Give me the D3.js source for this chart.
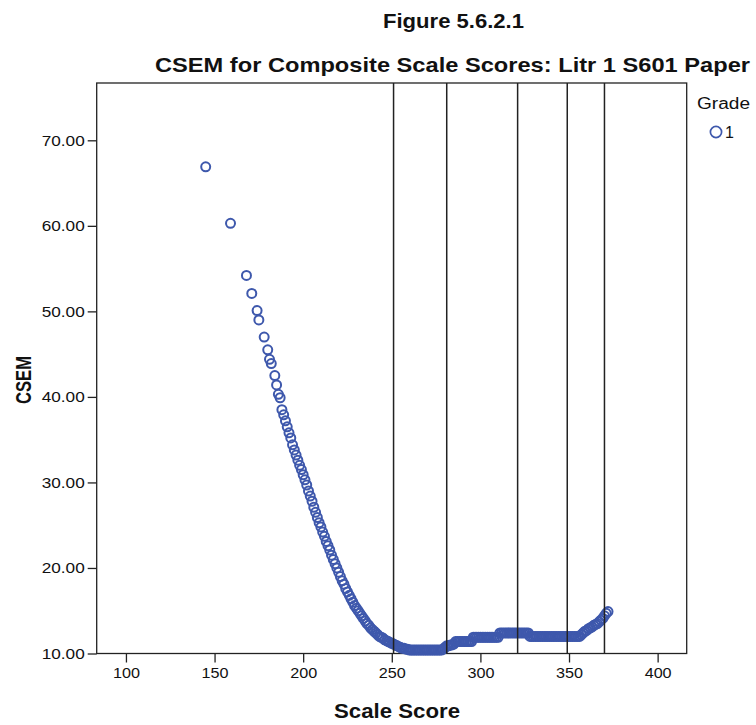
<!DOCTYPE html>
<html>
<head>
<meta charset="utf-8">
<script src="https://cdn.jsdelivr.net/npm/d3@7"></script>
<style>
  body { margin: 0; background: #fff; }
  svg text { font-family: "Liberation Sans", Arial, sans-serif; fill: #111; }
</style>
</head>
<body>
<div id="chart"></div>
<script>
// scale score of each point
const scaleScores = [
  145, 159, 168, 171, 174, 175, 178, 180, 181, 182, 184, 185,
  186, 187, 188, 189, 190, 191, 192, 193, 194, 195,
  196, 197, 198, 199, 200, 201, 202, 203, 204, 205,
  206, 207, 208, 209, 210, 211, 212, 213, 214, 215,
  216, 217, 218, 219, 220, 221, 222, 223, 224, 225,
  226, 227, 228, 229, 230, 231, 232, 233, 234, 235,
  236, 237, 238, 239, 240, 241, 242, 243, 244, 245,
  246, 247, 248, 249, 250, 251, 252, 253, 254, 255,
  256, 257, 258, 259, 260, 261, 262, 263, 264, 265,
  266, 267, 268, 269, 270, 271, 272, 273, 274, 275,
  276, 277, 278, 279, 280, 281, 282, 283, 284, 285,
  286, 287, 288, 289, 290, 291, 292, 293, 294, 295,
  296, 297, 298, 299, 300, 301, 302, 303, 304, 305,
  306, 307, 308, 309, 310, 311, 312, 313, 314, 315,
  316, 317, 318, 319, 320, 321, 322, 323, 324, 325,
  326, 327, 328, 329, 330, 331, 332, 333, 334, 335,
  336, 337, 338, 339, 340, 341, 342, 343, 344, 345,
  346, 347, 348, 349, 350, 351, 352, 353, 354, 355,
  356, 357, 358, 359, 360, 361, 362, 363, 364, 365,
  366, 367, 368, 369, 370, 371, 372
];
// CSEM of each point
const csemValues = [
  66.9, 60.3, 54.2, 52.1, 50.1, 49.0, 47.0, 45.5, 44.4, 43.9, 42.5, 41.4,
  40.3, 39.9, 38.5, 37.9, 37.2, 36.5, 35.8, 35.2, 34.4, 33.8,
  33.2, 32.6, 32.0, 31.5, 30.9, 30.3, 29.7, 29.0, 28.4, 27.8,
  27.1, 26.5, 25.9, 25.3, 24.8, 24.2, 23.7, 23.1, 22.6, 22.1,
  21.5, 21.0, 20.5, 20.0, 19.5, 19.0, 18.5, 18.1, 17.6, 17.2,
  16.8, 16.4, 16.0, 15.6, 15.3, 15.0, 14.7, 14.4, 14.1, 13.8,
  13.5, 13.3, 13.0, 12.8, 12.6, 12.4, 12.2, 12.0, 11.9, 11.8,
  11.6, 11.5, 11.4, 11.3, 11.2, 11.1, 11.0, 10.9, 10.8, 10.7,
  10.6, 10.6, 10.5, 10.5, 10.4, 10.4, 10.4, 10.4, 10.4, 10.4,
  10.4, 10.4, 10.4, 10.4, 10.4, 10.4, 10.4, 10.4, 10.4, 10.4,
  10.4, 10.4, 10.4, 10.5, 10.7, 10.9, 10.9, 11.0, 11.0, 11.1,
  11.4, 11.4, 11.4, 11.4, 11.4, 11.4, 11.4, 11.4, 11.4, 11.4,
  11.9, 11.9, 11.9, 11.9, 11.9, 11.9, 11.9, 11.9, 11.9, 11.9,
  11.9, 11.9, 11.9, 11.9, 11.9, 12.4, 12.4, 12.4, 12.4, 12.4,
  12.4, 12.4, 12.4, 12.4, 12.4, 12.4, 12.4, 12.4, 12.4, 12.4,
  12.4, 12.4, 12.0, 12.0, 12.0, 12.0, 12.0, 12.0, 12.0, 12.0,
  12.0, 12.0, 12.0, 12.0, 12.0, 12.0, 12.0, 12.0, 12.0, 12.0,
  12.0, 12.0, 12.0, 12.0, 12.0, 12.0, 12.0, 12.0, 12.0, 12.0,
  12.0, 12.2, 12.4, 12.6, 12.7, 12.9, 13.0, 13.1, 13.3, 13.4,
  13.5, 13.7, 13.9, 14.1, 14.4, 14.7, 14.9
];
// reference lines (cut scores)
const cutScores = [251, 281, 321, 349, 370];
const xTicks = [100, 150, 200, 250, 300, 350, 400];
const yTicks = [10, 20, 30, 40, 50, 60, 70];
const grades = ["1"];

const width = 756, height = 725;
const frame = { left: 96.7, right: 686.7, top: 83, bottom: 653.5 };
const blue = "#3e58ac";

const svg = d3.select("#chart").append("svg")
    .attr("width", width)
    .attr("height", height);

const x = d3.scaleLinear().domain([83.5, 416.4]).range([frame.left, frame.right]);
const y = d3.scaleLinear().domain([10, 76.7]).range([frame.bottom, frame.top]);

// squeeze text to the width it has in the original
function fitText(sel, w) {
    sel.attr("textLength", w).attr("lengthAdjust", "spacingAndGlyphs");
}

// titles
svg.append("text")
    .attr("x", 383).attr("y", 28)
    .attr("font-size", 21).attr("font-weight", "bold")
    .text("Figure 5.6.2.1")
    .call(fitText, 141);
svg.append("text")
    .attr("x", 155).attr("y", 72)
    .attr("font-size", 21).attr("font-weight", "bold")
    .text("CSEM for Composite Scale Scores: Litr 1 S601 Paper")
    .call(fitText, 595);

// axes
const xAxis = svg.append("g")
    .attr("transform", `translate(0,${frame.bottom})`)
    .call(d3.axisBottom(x).tickValues(xTicks).tickSize(9).tickSizeOuter(0).tickPadding(4));
const yAxis = svg.append("g")
    .attr("transform", `translate(${frame.left},0)`)
    .call(d3.axisLeft(y).tickValues(yTicks).tickFormat(d3.format(".2f")).tickSize(9).tickSizeOuter(0).tickPadding(3));
[xAxis, yAxis].forEach(g => {
    g.select(".domain").remove();
    g.selectAll("line").attr("stroke", "#222").attr("stroke-width", 1.3);
    g.selectAll("text").attr("font-size", 15.5).attr("fill", "#222")
        .attr("font-family", "\"Liberation Sans\", Arial, sans-serif");
});
xAxis.selectAll("text").call(fitText, 27);
yAxis.selectAll("text").call(fitText, 43);

// frame
svg.append("rect")
    .attr("x", frame.left).attr("y", frame.top)
    .attr("width", frame.right - frame.left).attr("height", frame.bottom - frame.top)
    .attr("fill", "none").attr("stroke", "#222").attr("stroke-width", 1.3);

// axis titles
svg.append("text")
    .attr("x", 334).attr("y", 718)
    .attr("font-size", 21).attr("font-weight", "bold")
    .text("Scale Score")
    .call(fitText, 126);
svg.append("text")
    .attr("transform", `translate(31,404) rotate(-90)`)
    .attr("font-size", 22).attr("font-weight", "bold")
    .text("CSEM")
    .call(fitText, 48);

// points
const points = scaleScores.map((s, i) => ({ score: s, csem: csemValues[i] }));
svg.append("g").selectAll("circle")
    .data(points)
    .enter().append("circle")
    .attr("cx", d => x(d.score))
    .attr("cy", d => y(d.csem))
    .attr("r", 4.5)
    .attr("fill", "none")
    .attr("stroke", blue)
    .attr("stroke-width", 2);

// cut score lines
svg.append("g").selectAll("line")
    .data(cutScores)
    .enter().append("line")
    .attr("x1", d => x(d)).attr("x2", d => x(d))
    .attr("y1", frame.top).attr("y2", frame.bottom)
    .attr("stroke", "#222").attr("stroke-width", 1.5);

// legend
svg.append("text")
    .attr("x", 697).attr("y", 109)
    .attr("font-size", 16)
    .text("Grade")
    .call(fitText, 53);
const legend = svg.append("g").selectAll("g")
    .data(grades)
    .enter().append("g")
    .attr("transform", (d, i) => `translate(716,${132 + i * 20})`);
legend.append("circle")
    .attr("r", 5.6).attr("fill", "none")
    .attr("stroke", blue).attr("stroke-width", 1.7);
legend.append("text")
    .attr("x", 9).attr("y", 6)
    .attr("font-size", 16)
    .text(d => d);
</script>
</body>
</html>
